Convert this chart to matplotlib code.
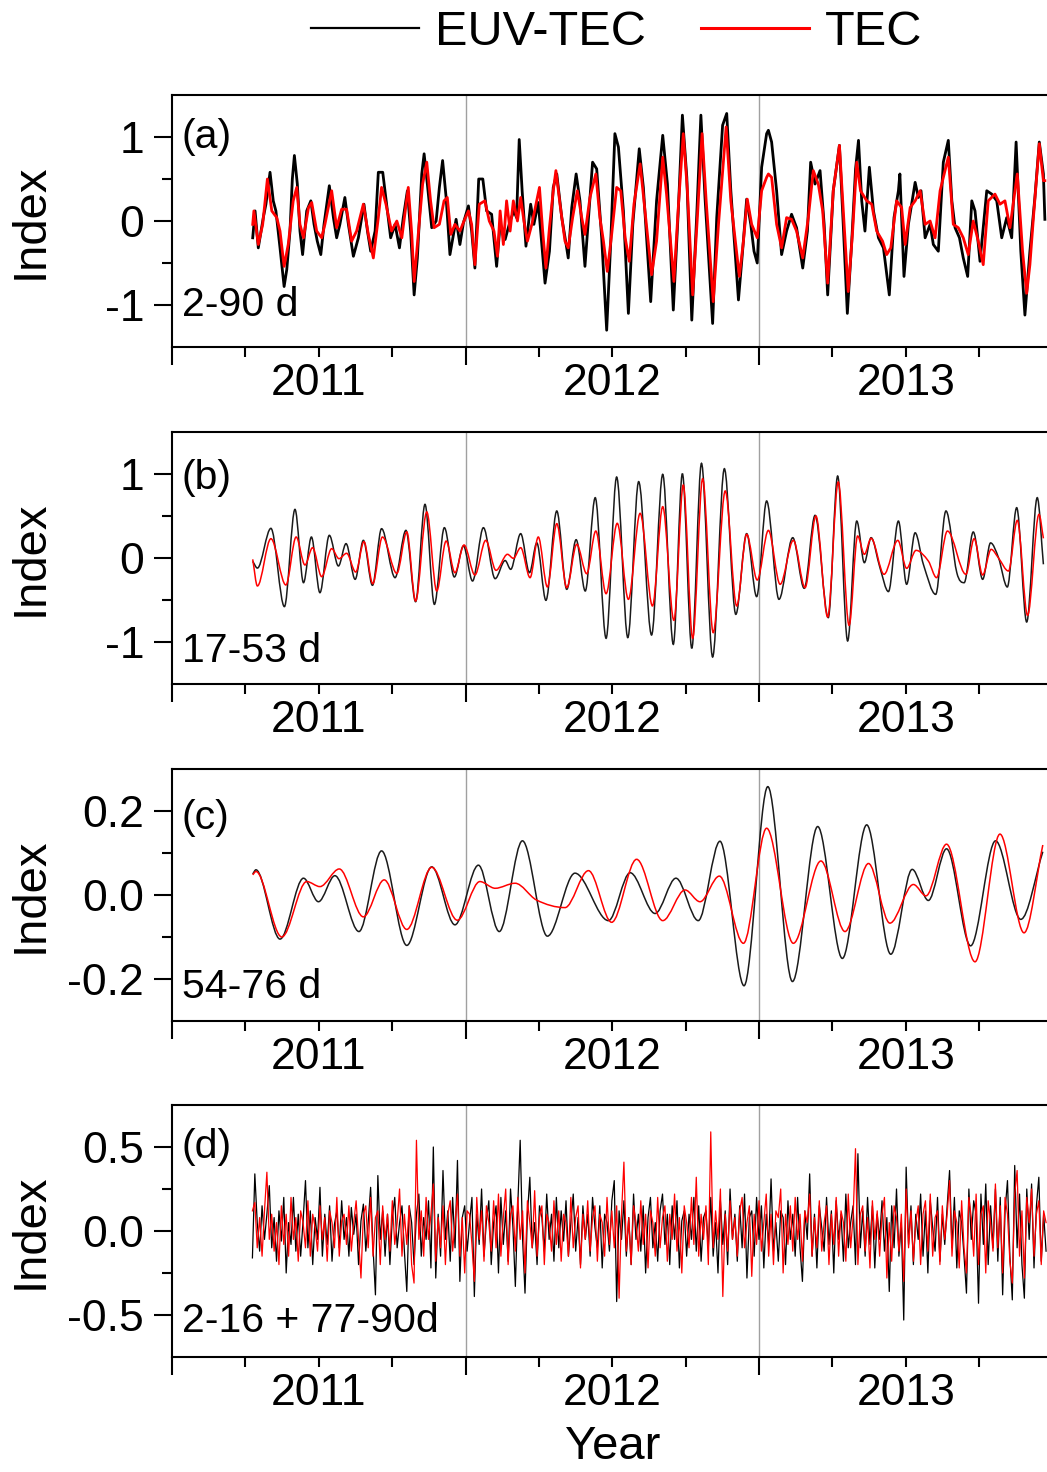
import numpy as np
import matplotlib
matplotlib.use("Agg")
import matplotlib.pyplot as plt
from matplotlib.path import Path
from matplotlib.patches import PathPatch
from matplotlib.lines import Line2D
from matplotlib.ticker import FixedLocator, FuncFormatter, NullFormatter

plt.rcParams['font.family'] = ['Liberation Sans', 'DejaVu Sans']
plt.rcParams['axes.unicode_minus'] = False

# ---------------- panel (a): 2-90 d ----------------
a_euv_t = [2011.275, 2011.283, 2011.294, 2011.311, 2011.320, 2011.334, 2011.345, 2011.354, 2011.368, 2011.382,
           2011.391, 2011.402, 2011.410, 2011.417, 2011.427, 2011.436, 2011.445, 2011.459, 2011.473, 2011.484,
           2011.495, 2011.507, 2011.518, 2011.536, 2011.550, 2011.561, 2011.572, 2011.589, 2011.601, 2011.618,
           2011.635, 2011.654, 2011.666, 2011.677, 2011.692, 2011.703, 2011.718, 2011.731, 2011.745, 2011.760,
           2011.775, 2011.788, 2011.802, 2011.813, 2011.825, 2011.836, 2011.851, 2011.859, 2011.870, 2011.885,
           2011.900, 2011.911, 2011.922, 2011.934, 2011.947, 2011.959, 2011.968, 2011.981, 2011.993, 2012.010,
           2012.021, 2012.032, 2012.045, 2012.059, 2012.072, 2012.089, 2012.106,
           2012.118, 2012.135, 2012.152, 2012.165, 2012.174, 2012.183, 2012.193, 2012.206, 2012.222, 2012.233,
           2012.248, 2012.260, 2012.271, 2012.286, 2012.299, 2012.311, 2012.328, 2012.343, 2012.350, 2012.362,
           2012.377, 2012.390, 2012.407, 2012.419, 2012.433, 2012.447, 2012.464, 2012.481, 2012.495, 2012.509,
           2012.521, 2012.538, 2012.555, 2012.570, 2012.592, 2012.606, 2012.631, 2012.651, 2012.672, 2012.688,
           2012.708, 2012.725, 2012.739, 2012.754, 2012.771, 2012.788, 2012.802, 2012.816, 2012.842, 2012.856,
           2012.876, 2012.890, 2012.904, 2012.930, 2012.944, 2012.958, 2012.972, 2012.983, 2012.994, 2013.009,
           2013.026,
           2013.032, 2013.043, 2013.060, 2013.077, 2013.094, 2013.111, 2013.128, 2013.149, 2013.165, 2013.176,
           2013.191, 2013.208, 2013.222, 2013.234, 2013.253, 2013.274, 2013.287, 2013.301, 2013.316, 2013.329,
           2013.339, 2013.350, 2013.361, 2013.376, 2013.390, 2013.407, 2013.424, 2013.444, 2013.460, 2013.475,
           2013.480, 2013.494, 2013.509, 2013.532, 2013.543, 2013.552, 2013.566, 2013.583, 2013.594, 2013.611,
           2013.628, 2013.645, 2013.657, 2013.668, 2013.683, 2013.696, 2013.711, 2013.725, 2013.736, 2013.753,
           2013.776, 2013.793, 2013.810, 2013.827, 2013.844, 2013.861, 2013.876, 2013.892, 2013.906, 2013.923,
           2013.940, 2013.955, 2013.969, 2013.974]
a_euv_v = [-0.2, 0.12, -0.32, 0.04, 0.2, 0.58, 0.24, 0.12, -0.32, -0.78,
           -0.58, -0.12, 0.5, 0.78, 0.44, -0.12, -0.4, 0.12, 0.24, -0.04,
           -0.24, -0.4, -0.04, 0.42, 0.04, -0.2, -0.04, 0.28, -0.04, -0.42,
           -0.2, 0.2, -0.12, -0.36, -0.12, 0.58, 0.58, 0.2, -0.2, -0.04,
           -0.32, 0.04, 0.36, -0.12, -0.88, -0.44, 0.56, 0.8, 0.44, -0.08,
           0.0, 0.4, 0.72, 0.28, -0.4, -0.16, 0.02, -0.28, -0.02, 0.18,
           -0.12, -0.56, 0.5, 0.5, 0.12, 0.08, -0.54,
           -0.04, -0.22, 0.0, 0.12, 0.04, 0.97, 0.36, -0.3, 0.2, -0.04,
           0.22, -0.28, -0.74, -0.36, 0.4, 0.56, 0.04, -0.28, -0.44, 0.16,
           0.56, 0.24, -0.54, 0.04, 0.7, 0.62, -0.2, -1.3, -0.24, 1.04,
           0.88, 0.12, -1.1, -0.04, 0.86, 0.4, -0.96, 0.24, 1.02, 0.44,
           -1.06, 0.12, 1.26, 0.52, -1.18, 0.08, 1.26, 0.28, -1.22, 0.04,
           1.14, 1.28, 0.36, -0.94, -0.36, 0.26, -0.04, -0.36, -0.5, 0.64,
           1.04,
           1.08, 0.94, 0.36, -0.4, -0.12, 0.08, -0.08, -0.56, -0.12, 0.7,
           0.44, 0.6, -0.04, -0.88, 0.36, 0.9, -0.04, -1.1, -0.24, 0.62,
           0.96, 0.24, -0.12, 0.64, 0.12, -0.2, -0.32, -0.88, 0.04, 0.36,
           0.56, -0.66, -0.04, 0.46, 0.28, 0.36, -0.2, -0.04, -0.28, -0.36,
           0.7, 0.96, 0.24, -0.08, -0.2, -0.44, -0.66, 0.24, 0.12, -0.48,
           0.36, 0.32, 0.24, -0.2, 0.04, -0.2, 0.94, -0.36, -1.12, -0.36,
           0.28, 0.94, 0.56, 0.02]

a_tec_t = [2011.275, 2011.279, 2011.294, 2011.309, 2011.325, 2011.340, 2011.357, 2011.368, 2011.382, 2011.396,
           2011.413, 2011.425, 2011.436, 2011.448, 2011.465, 2011.476, 2011.493, 2011.510, 2011.521, 2011.544,
           2011.561, 2011.578, 2011.595, 2011.612, 2011.629, 2011.652, 2011.669, 2011.686, 2011.703, 2011.714,
           2011.729, 2011.748, 2011.766, 2011.783, 2011.805, 2011.817, 2011.825, 2011.839, 2011.854, 2011.868,
           2011.881, 2011.893, 2011.911, 2011.927, 2011.938, 2011.950, 2011.964, 2011.981, 2011.995, 2012.010,
           2012.021, 2012.032, 2012.047, 2012.066, 2012.081, 2012.097, 2012.109,
           2012.118, 2012.129, 2012.140, 2012.152, 2012.163, 2012.177, 2012.188, 2012.199, 2012.211, 2012.226,
           2012.240, 2012.252, 2012.263, 2012.274, 2012.286, 2012.299, 2012.308, 2012.322, 2012.339, 2012.350,
           2012.365, 2012.381, 2012.396, 2012.407, 2012.424, 2012.444, 2012.458, 2012.470, 2012.483, 2012.498,
           2012.515, 2012.529, 2012.544, 2012.558, 2012.574, 2012.595, 2012.608, 2012.634, 2012.651, 2012.672,
           2012.685, 2012.710, 2012.725, 2012.742, 2012.756, 2012.774, 2012.790, 2012.806, 2012.820, 2012.844,
           2012.862, 2012.888, 2012.904, 2012.933, 2012.947, 2012.960, 2012.975, 2012.994, 2013.009, 2013.026,
           2013.032, 2013.043, 2013.060, 2013.077, 2013.094, 2013.111, 2013.128, 2013.149, 2013.168, 2013.185,
           2013.202, 2013.217, 2013.234, 2013.253, 2013.274, 2013.290, 2013.304, 2013.319, 2013.333, 2013.346,
           2013.367, 2013.384, 2013.401, 2013.421, 2013.435, 2013.449, 2013.469, 2013.486, 2013.498, 2013.515,
           2013.532, 2013.549, 2013.566, 2013.583, 2013.600, 2013.617, 2013.645, 2013.662, 2013.679, 2013.696,
           2013.713, 2013.730, 2013.747, 2013.764, 2013.781, 2013.804, 2013.821, 2013.838, 2013.855, 2013.880,
           2013.898, 2013.912, 2013.923, 2013.935, 2013.955, 2013.969, 2013.974]
a_tec_v = [-0.04, 0.12, -0.28, -0.04, 0.5, 0.12, 0.04, -0.12, -0.54, -0.28,
           0.24, 0.4, -0.04, -0.2, 0.16, 0.22, -0.12, -0.2, -0.04, 0.36,
           -0.08, 0.14, 0.14, -0.24, -0.12, 0.2, -0.16, -0.44, 0.04, 0.4,
           0.2, -0.12, 0.0, -0.2, 0.4, -0.16, -0.72, -0.16, 0.44, 0.7,
           0.24, -0.08, -0.04, 0.24, 0.28, -0.16, -0.04, -0.12, 0.0, 0.12,
           -0.04, -0.52, 0.2, 0.24, 0.0, -0.12, -0.42,
           0.12, -0.28, 0.24, -0.12, 0.24, 0.0, 0.28, 0.0, -0.24, -0.04,
           0.2, 0.4, -0.12, -0.56, -0.08, 0.36, 0.6, 0.2, -0.24, -0.32,
           0.04, 0.36, 0.04, -0.16, 0.28, 0.56, 0.04, -0.24, -0.6, -0.16,
           0.4, 0.36, -0.2, -0.48, 0.2, 0.68, 0.24, -0.64, -0.24, 0.76,
           0.32, -0.72, 0.16, 1.04, 0.36, -0.88, 0.04, 1.04, 0.24, -0.96,
           -0.04, 1.12, 0.24, -0.66, -0.24, 0.26, -0.04, -0.2, 0.36, 0.52,
           0.56, 0.52, -0.04, -0.32, 0.04, 0.02, -0.12, -0.44, 0.04, 0.6,
           0.44, 0.12, -0.74, 0.36, 0.9, -0.04, -0.84, -0.12, 0.7, 0.36,
           0.24, 0.2, -0.12, -0.24, -0.4, -0.32, 0.24, 0.16, -0.28, 0.16,
           0.24, 0.36, -0.04, 0.0, -0.2, 0.36, 0.76, -0.04, -0.08, -0.2,
           -0.4, 0.0, -0.24, -0.52, 0.24, 0.32, 0.2, 0.24, -0.08, 0.56,
           -0.36, -0.86, -0.52, 0.04, 0.92, 0.48, 0.48]

# ---------------- panel (b): 17-53 d (extrema) ----------------
b_euv_t = [2011.275, 2011.291, 2011.337, 2011.383, 2011.419, 2011.448, 2011.475, 2011.504, 2011.536, 2011.567,
           2011.593, 2011.624, 2011.652, 2011.683, 2011.714, 2011.760, 2011.797, 2011.830, 2011.862, 2011.894,
           2011.928, 2011.962, 2011.993, 2012.024, 2012.061, 2012.101, 2012.135,
           2012.154, 2012.188, 2012.218, 2012.243, 2012.274, 2012.311, 2012.345, 2012.377, 2012.408, 2012.442,
           2012.479, 2012.515, 2012.553, 2012.590, 2012.634, 2012.672, 2012.708, 2012.739, 2012.771, 2012.804,
           2012.842, 2012.882, 2012.921, 2012.958, 2012.992, 2013.026,
           2013.068, 2013.115, 2013.154, 2013.191, 2013.236, 2013.268, 2013.302, 2013.333, 2013.359, 2013.382,
           2013.412, 2013.441, 2013.475, 2013.503, 2013.532, 2013.560, 2013.602, 2013.637, 2013.674, 2013.699,
           2013.730, 2013.762, 2013.789, 2013.816, 2013.846, 2013.878, 2013.912, 2013.948, 2013.969]
b_euv_v = [-0.04, -0.12, 0.353, -0.579, 0.579, -0.294, 0.25, -0.413, 0.27, -0.095,
           0.171, -0.254, 0.21, -0.325, 0.349, -0.234, 0.329, -0.52, 0.639, -0.552,
           0.361, -0.226, 0.143, -0.274, 0.361, -0.246, -0.03,
           -0.135, 0.29, -0.175, 0.18, -0.504, 0.56, -0.373, 0.218, -0.393, 0.718,
           -0.956, 0.964, -0.948, 0.909, -0.917, 0.996, -1.028, 1.004, -1.075, 1.127,
           -1.179, 1.063, -0.671, 0.29, -0.46, 0.679,
           -0.492, 0.242, -0.361, 0.508, -0.71, 0.976, -0.988, 0.44, -0.056, 0.242,
           -0.115, -0.40, 0.44, -0.313, 0.30, -0.075, -0.433, 0.56, -0.175, -0.294,
           0.31, -0.254, 0.18, 0.004, -0.345, 0.599, -0.762, 0.718, -0.075]

b_tec_t = [2011.275, 2011.291, 2011.337, 2011.388, 2011.423, 2011.453, 2011.479, 2011.510, 2011.544, 2011.569,
           2011.595, 2011.626, 2011.654, 2011.684, 2011.717, 2011.766, 2011.800, 2011.830, 2011.868, 2011.902,
           2011.934, 2011.964, 2011.995, 2012.032, 2012.069, 2012.104, 2012.143,
           2012.163, 2012.188, 2012.220, 2012.248, 2012.279, 2012.311, 2012.345, 2012.379, 2012.413, 2012.444,
           2012.479, 2012.517, 2012.555, 2012.595, 2012.637, 2012.672, 2012.710, 2012.742, 2012.774, 2012.808,
           2012.844, 2012.885, 2012.924, 2012.958, 2012.994, 2013.032,
           2013.072, 2013.117, 2013.157, 2013.194, 2013.234, 2013.270, 2013.307, 2013.336, 2013.359, 2013.382,
           2013.426, 2013.473, 2013.503, 2013.535, 2013.577, 2013.605, 2013.642, 2013.705, 2013.733, 2013.762,
           2013.791, 2013.816, 2013.850, 2013.880, 2013.915, 2013.954, 2013.969]
b_tec_v = [-0.016, -0.333, 0.23, -0.321, 0.25, -0.083, 0.123, -0.222, 0.111, -0.008,
           0.056, -0.167, 0.194, -0.306, 0.25, -0.183, 0.31, -0.512, 0.548, -0.393,
           0.202, -0.175, 0.155, -0.202, 0.21, -0.147, 0.044,
           -0.004, 0.123, -0.234, 0.25, -0.345, 0.409, -0.353, 0.163, -0.187, 0.321,
           -0.425, 0.413, -0.492, 0.532, -0.571, 0.611, -0.742, 0.869, -0.956, 0.944,
           -0.889, 0.798, -0.571, 0.282, -0.262, 0.329,
           -0.313, 0.21, -0.353, 0.5, -0.702, 0.905, -0.802, 0.262, 0.044, 0.234,
           -0.194, 0.21, -0.123, 0.091, -0.036, -0.234, 0.321, -0.194, 0.23, -0.202,
           0.103, 0.0, -0.155, 0.448, -0.683, 0.52, 0.234]

# ---------------- panel (c): 54-76 d (extrema) ----------------
c_euv_t = [2011.275, 2011.286, 2011.368, 2011.448, 2011.499, 2011.555, 2011.637, 2011.714, 2011.800, 2011.885,
           2011.964, 2012.044, 2012.115, 2012.194, 2012.279, 2012.373, 2012.487, 2012.561, 2012.646, 2012.717,
           2012.793, 2012.867, 2012.949, 2013.030, 2013.114, 2013.200, 2013.284, 2013.367, 2013.449, 2013.522,
           2013.577, 2013.639, 2013.721, 2013.806, 2013.892, 2013.967]
c_euv_v = [0.05, 0.06, -0.105, 0.04, -0.016, 0.046, -0.087, 0.105, -0.12, 0.067,
           -0.071, 0.071, -0.087, 0.129, -0.098, 0.052, -0.061, 0.053, -0.044, 0.04,
           -0.061, 0.128, -0.216, 0.258, -0.206, 0.163, -0.151, 0.167, -0.141, 0.061,
           -0.013, 0.11, -0.121, 0.129, -0.058, 0.103]

c_tec_t = [2011.275, 2011.286, 2011.374, 2011.459, 2011.504, 2011.570, 2011.652, 2011.723, 2011.800, 2011.885,
           2011.972, 2012.049, 2012.101, 2012.169, 2012.242, 2012.339, 2012.419, 2012.498, 2012.583, 2012.672,
           2012.748, 2012.799, 2012.865, 2012.947, 2013.026, 2013.117, 2013.211, 2013.293, 2013.373, 2013.446,
           2013.526, 2013.569, 2013.639, 2013.736, 2013.821, 2013.903, 2013.967]
c_tec_v = [0.048, 0.056, -0.10, 0.032, 0.02, 0.062, -0.052, 0.036, -0.082, 0.066,
           -0.06, 0.032, 0.016, 0.028, -0.012, -0.03, 0.058, -0.065, 0.085, -0.061,
           0.012, -0.016, 0.045, -0.115, 0.159, -0.115, 0.081, -0.087, 0.075, -0.067,
           0.025, -0.002, 0.121, -0.159, 0.145, -0.09, 0.119]

# ---------------- panel (d): 2-16 + 77-90 d (3-day samples from day 100 of 2011) ----------------
d_first_day = 100
d_step_days = 3
d_euv = [-0.16, 0.34, 0.05, -0.12, 0.15, -0.05, 0.10, 0.27, -0.10, 0.08,
         -0.18, 0.12, -0.06, 0.20, -0.25, 0.05, -0.08, 0.20, -0.12, 0.10,
         -0.15, 0.06, 0.30, -0.10, 0.12, -0.20, 0.08, -0.05, 0.26, -0.15,
         0.10, -0.08, 0.15, -0.18, 0.04, 0.12, -0.10, 0.18, -0.05, 0.08,
         -0.15, 0.14, -0.02, 0.10, -0.20, 0.06, 0.16, -0.12, 0.05, 0.26,
         -0.10, -0.38, 0.33, -0.05, 0.12, -0.15, 0.10, -0.20, 0.08, 0.20,
         -0.10, 0.05, 0.15, -0.12, -0.36, 0.15, 0.05, -0.20, 0.10, 0.22,
         -0.15, 0.08, -0.05, 0.18, -0.22, 0.50, -0.28, 0.10, -0.15, 0.36,
         -0.05, 0.12, -0.18, 0.20, -0.10, 0.42, -0.30, 0.08, 0.15, -0.12,
         0.05, 0.20, -0.39, 0.10, -0.08, 0.25, -0.15, 0.06, 0.18, -0.20,
         0.05, 0.15, -0.25, 0.20, -0.08, 0.12, -0.18, 0.25, 0.02, -0.33,
         0.15, 0.54, -0.05, -0.37, 0.10, 0.32, -0.10, 0.05, -0.20, 0.15,
         0.08, -0.12, 0.22, -0.05, 0.10, -0.18, 0.20, -0.10, 0.12, -0.06,
         0.18, -0.15, 0.05, 0.22, -0.12, 0.08, -0.20, 0.15, -0.05, 0.10,
         -0.15, 0.20, 0.02, -0.10, 0.15, -0.22, 0.10, 0.05, -0.12, 0.18,
         0.30, -0.42, 0.12, -0.05, 0.18, -0.15, 0.08, -0.20, 0.22, -0.05,
         0.10, -0.12, 0.15, -0.25, 0.08, 0.20, -0.10, 0.05, -0.18, 0.12,
         0.22, -0.08, 0.10, -0.20, 0.15, -0.05, 0.18, -0.22, 0.06, 0.12,
         -0.15, 0.10, -0.05, 0.20, -0.12, 0.15, -0.18, 0.08, 0.12, -0.10,
         0.20, -0.15, 0.05, -0.25, 0.18, -0.08, 0.12, -0.20, 0.25, -0.05,
         0.10, -0.18, 0.15, -0.10, 0.22, -0.28, 0.08, 0.12, -0.15, 0.20,
         -0.05, 0.15, -0.22, 0.10, -0.08, 0.31, -0.12, 0.05, -0.18, 0.12,
         0.08, -0.20, 0.18, -0.05, 0.10, -0.15, 0.20, -0.10, -0.30, 0.12,
         -0.05, 0.34, -0.15, 0.10, -0.22, 0.15, 0.02, -0.12, 0.20, -0.08,
         0.12, -0.25, 0.18, -0.05, 0.10, -0.18, 0.22, -0.10, 0.05, 0.15,
         -0.20, 0.46, -0.10, 0.12, -0.15, 0.20, -0.08, 0.15, -0.22, 0.10,
         -0.05, 0.18, -0.12, 0.08, -0.36, 0.15, -0.10, 0.25, -0.15, 0.05,
         -0.53, 0.38, -0.08, 0.15, -0.20, 0.10, -0.05, 0.22, -0.15, 0.12,
         -0.25, 0.18, 0.02, -0.12, 0.20, -0.18, 0.10, -0.08, 0.15, 0.36,
         -0.10, 0.20, -0.22, 0.12, 0.05, -0.15, -0.37, 0.25, -0.05, 0.18,
         0.10, -0.43, 0.22, -0.08, 0.28, -0.20, 0.15, -0.10, 0.25, -0.18,
         0.20, -0.38, 0.12, 0.30, -0.15, -0.41, 0.39, -0.10, 0.22, -0.20,
         -0.40, 0.25, -0.05, 0.28, -0.22, 0.15, 0.32, -0.18, 0.10, -0.12]
d_tec = [0.12, 0.17, -0.10, 0.08, -0.15, 0.12, 0.35, -0.05, 0.10, -0.12,
         0.05, -0.20, 0.15, -0.08, 0.10, -0.15, 0.20, -0.05, 0.08, -0.18,
         0.12, 0.05, -0.10, 0.18, -0.15, 0.10, 0.02, -0.12, 0.15, -0.05,
         0.08, -0.18, 0.12, 0.05, -0.10, 0.20, -0.15, 0.06, 0.10, -0.08,
         0.15, -0.12, 0.05, 0.18, -0.05, -0.28, 0.10, 0.15, -0.10, 0.20,
         -0.15, 0.08, 0.12, -0.20, 0.15, -0.05, 0.10, -0.12, 0.18, -0.08,
         0.05, 0.25, -0.15, 0.10, -0.08, 0.15, -0.20, -0.31, 0.54, -0.05,
         0.12, -0.15, 0.20, -0.05, 0.10, 0.28, -0.18, 0.08, -0.10, 0.15,
         -0.20, 0.10, 0.18, -0.12, 0.05, 0.22, -0.15, 0.08, -0.25, 0.12,
         0.10, -0.08, -0.30, 0.20, -0.05, 0.12, -0.18, 0.15, 0.05, -0.12,
         0.18, -0.10, 0.22, -0.15, 0.08, 0.25, -0.20, 0.10, 0.15, -0.12,
         0.20, -0.05, 0.12, -0.25, 0.18, 0.05, -0.10, 0.24, -0.15, 0.08,
         0.15, -0.20, 0.10, 0.05, -0.12, 0.18, -0.08, 0.12, -0.18, 0.10,
         0.05, -0.15, 0.20, -0.10, 0.08, 0.15, -0.22, 0.10, -0.05, 0.18,
         -0.12, 0.08, 0.15, -0.18, 0.10, 0.05, -0.15, 0.20, -0.08, 0.12,
         -0.10, 0.15, -0.40, 0.10, 0.41, -0.12, 0.08, -0.20, 0.15, 0.05,
         -0.12, 0.18, -0.08, 0.10, -0.22, 0.12, 0.05, -0.15, 0.20, -0.10,
         0.08, 0.15, -0.18, 0.10, -0.05, 0.22, -0.12, 0.08, -0.25, 0.15,
         0.05, -0.10, 0.20, -0.08, 0.32, -0.15, 0.10, -0.05, 0.15, -0.20,
         0.59, -0.10, 0.12, -0.05, 0.25, -0.39, 0.10, -0.12, 0.18, -0.05,
         0.08, -0.15, 0.12, 0.20, -0.10, 0.05, 0.15, -0.27, 0.10, -0.08,
         0.18, -0.12, 0.05, 0.22, -0.15, 0.10, -0.20, 0.12, 0.08, 0.25,
         -0.25, 0.10, -0.08, 0.15, -0.12, 0.20, -0.05, 0.10, -0.18, 0.12,
         0.05, 0.22, -0.15, 0.08, -0.10, 0.18, -0.12, 0.05, 0.15, -0.20,
         0.10, -0.08, 0.20, -0.15, 0.12, 0.05, -0.18, 0.22, -0.10, 0.08,
         0.49, -0.20, 0.10, 0.15, -0.12, 0.08, -0.22, 0.18, -0.05, 0.12,
         -0.15, 0.10, 0.20, -0.28, 0.05, -0.18, 0.15, 0.08, -0.12, 0.10,
         -0.30, 0.25, -0.10, 0.12, -0.18, 0.05, 0.15, -0.20, 0.10, 0.18,
         -0.12, 0.22, -0.15, 0.08, 0.12, -0.20, 0.15, -0.05, 0.10, 0.30,
         -0.15, 0.12, 0.05, -0.22, 0.18, -0.10, -0.25, 0.20, 0.08, -0.15,
         0.22, -0.20, 0.10, 0.15, -0.25, 0.18, 0.05, -0.12, 0.28, -0.10,
         0.15, -0.25, 0.20, 0.10, -0.18, -0.31, 0.22, 0.36, -0.15, 0.12,
         -0.28, 0.20, 0.05, 0.25, -0.15, 0.10, 0.18, -0.20, 0.12, 0.05]

panel_tags = ['(a)', '(b)', '(c)', '(d)']
band_labels = ['2-90 d', '17-53 d', '54-76 d', '2-16 + 77-90d']
series_names = ['EUV-TEC', 'TEC']
year_bounds = [2011, 2012, 2013, 2014]


def smooth_path(x, y):
    # cubic Bezier through the read extrema, flat tangent at each extremum
    x = np.asarray(x, float)
    y = np.asarray(y, float)
    n = len(x)
    m = np.zeros(n)
    for i in range(1, n - 1):
        if (y[i] - y[i - 1]) * (y[i + 1] - y[i]) > 0:
            m[i] = (y[i + 1] - y[i - 1]) / (x[i + 1] - x[i - 1])
    m[0] = (y[1] - y[0]) / (x[1] - x[0])
    m[-1] = (y[-1] - y[-2]) / (x[-1] - x[-2])
    verts = [(x[0], y[0])]
    codes = [Path.MOVETO]
    for i in range(n - 1):
        h = x[i + 1] - x[i]
        verts += [(x[i] + h / 3, y[i] + m[i] * h / 3),
                  (x[i + 1] - h / 3, y[i + 1] - m[i + 1] * h / 3),
                  (x[i + 1], y[i + 1])]
        codes += [Path.CURVE4] * 3
    return Path(verts, codes)


W, H = 1047, 1472
fig = plt.figure(figsize=(W / 100, H / 100), dpi=100)

left = 172 / W
width = 880.5 / W
tops = [95, 432, 769, 1105]
ax_h = 252

ylims = [(-1.5, 1.5), (-1.5, 1.5), (-0.3, 0.3), (-0.75, 0.75)]
ymajor = [[-1, 0, 1], [-1, 0, 1], [-0.2, 0.0, 0.2], [-0.5, 0.0, 0.5]]
yminor = [[-0.5, 0.5], [-0.5, 0.5], [-0.1, 0.1], [-0.25, 0.25]]
yfmt = ['%d', '%d', '%.1f', '%.1f']
tag_y = [0.833, 0.817, 0.805, 0.833]
band_y = [0.167, 0.131, 0.135, 0.143]

axes = []
for k in range(4):
    bottom = 1 - (tops[k] + ax_h) / H
    ax = fig.add_axes([left, bottom, width, ax_h / H])
    axes.append(ax)
    ax.set_xlim(year_bounds[0], year_bounds[-1])
    ax.set_ylim(*ylims[k])
    for yb in year_bounds[1:-1]:
        ax.axvline(yb, color='#a0a0a0', lw=1.0, zorder=0.5)

    ax.xaxis.set_major_locator(FixedLocator(year_bounds))
    ax.xaxis.set_major_formatter(NullFormatter())
    quarters = [y + q for y in year_bounds[:-1] for q in (0.25, 0.5, 0.75)]
    ax.xaxis.set_minor_locator(FixedLocator(quarters))
    ax.xaxis.set_minor_formatter(FuncFormatter(
        lambda v, p: str(int(v)) if abs(v - int(v) - 0.5) < 1e-6 else ''))
    ax.yaxis.set_major_locator(FixedLocator(ymajor[k]))
    ax.yaxis.set_minor_locator(FixedLocator(yminor[k]))
    fmt = yfmt[k]
    ax.yaxis.set_major_formatter(FuncFormatter(lambda v, p, f=fmt: f % v))

    ax.tick_params(axis='both', which='major', direction='out', length=13, width=1.5,
                   labelsize=32)
    ax.tick_params(axis='both', which='minor', direction='out', length=7.5, width=1.5,
                   labelsize=32)
    ax.tick_params(axis='x', which='both', pad=4)
    ax.tick_params(axis='y', which='both', pad=7)
    for s in ax.spines.values():
        s.set_linewidth(1.5)

    ax.set_ylabel('Index', fontsize=34)
    ax.yaxis.set_label_coords(-0.136, 0.5)
    ax.text(0.011, tag_y[k], panel_tags[k], transform=ax.transAxes,
            fontsize=29.5, ha='left', va='center')
    ax.text(0.011, band_y[k], band_labels[k], transform=ax.transAxes,
            fontsize=29.5, ha='left', va='center')

# (a) broad band: straight segments through read points
axes[0].plot(a_euv_t, a_euv_v, color='black', lw=2.0, zorder=2)
axes[0].plot(a_tec_t, a_tec_v, color='#ff0000', lw=2.0, zorder=3)

# (b), (c) narrow bands: smooth curves through read extrema
for ax, et, ev, tt, tv in [(axes[1], b_euv_t, b_euv_v, b_tec_t, b_tec_v),
                           (axes[2], c_euv_t, c_euv_v, c_tec_t, c_tec_v)]:
    ax.add_patch(PathPatch(smooth_path(et, ev), fill=False, edgecolor='#1a1a1a', lw=1.1, zorder=2))
    ax.add_patch(PathPatch(smooth_path(tt, tv), fill=False, edgecolor='#ff0000', lw=1.1, zorder=3))

# (d) residual bands
d_euv_t = 2011 + (d_first_day + d_step_days * np.arange(len(d_euv))) / 365.0
d_tec_t = 2011 + (d_first_day + d_step_days * np.arange(len(d_tec))) / 365.0
axes[3].plot(d_euv_t, d_euv, color='black', lw=0.9, zorder=2)
axes[3].plot(d_tec_t, d_tec, color='#ff0000', lw=0.9, zorder=3)

handles = [Line2D([], [], color='black', lw=1.6), Line2D([], [], color='#ff0000', lw=2.2)]
fig.legend(handles, series_names, loc='center', bbox_to_anchor=(0.589, 0.978), ncol=2,
           frameon=False, fontsize=35, handlelength=2.22, handletextpad=0.33,
           columnspacing=1.15)
fig.text(0.5855, 0.009, 'Year', ha='center', va='baseline', fontsize=34)

fig.savefig('out.png', dpi=100)
